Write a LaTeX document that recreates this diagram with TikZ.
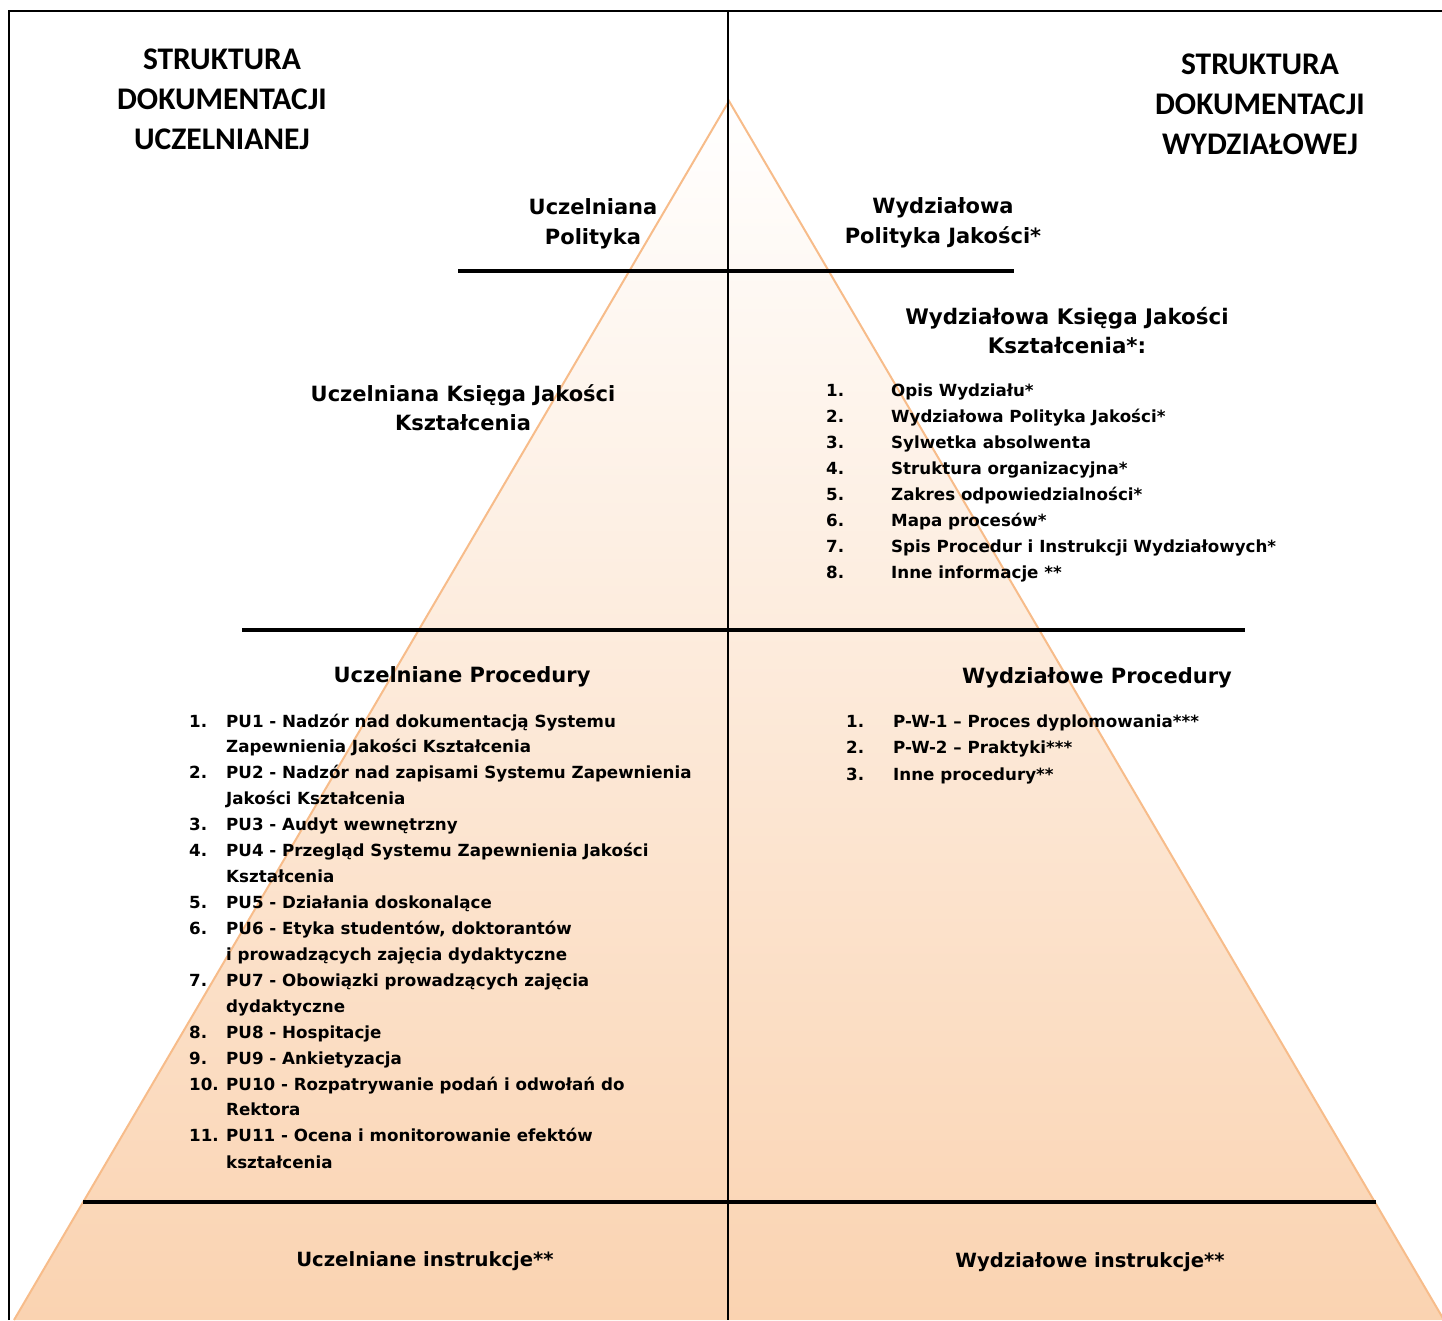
\documentclass[tikz,border=0pt]{standalone}
\usepackage{fontspec}
\setmainfont{DejaVu Sans}
\newfontfamily\headfont{Carlito}
\definecolor{peach}{RGB}{250,211,177}
\definecolor{pyredge}{RGB}{247,188,138}
\tikzset{
  bigtitle/.style={font=\headfont\bfseries\fontsize{31.5}{40}\selectfont, align=center, inner sep=0pt},
  heading/.style={font=\bfseries\fontsize{21}{30}\selectfont, align=center, inner sep=0pt},
  instr/.style={font=\bfseries\fontsize{19.6}{26}\selectfont, align=center, inner sep=0pt},
  itemtxt/.style={font=\bfseries\fontsize{16.7}{26}\selectfont, anchor=mid west, inner sep=0pt},
  rule/.style={line width=3.5pt, black},
  frame/.style={line width=2pt, black}
}
\begin{document}
\begin{tikzpicture}[x=1pt,y=-1pt]
\useasboundingbox (0,0) rectangle (1442,1320);
\begin{scope}
\clip (0,0) rectangle (1442,1320);
\shade[top color=white, bottom color=peach] (729,101) -- (14,1320) -- (1444,1320) -- cycle;
\draw[pyredge, line width=2pt] (14,1320) -- (729,101) -- (1444,1320);
\end{scope}
% frame
\draw[frame] (9,1320) -- (9,11) -- (1442,11);
\draw[frame] (728,11) -- (728,1320);
% rules
\draw[rule] (458,271) -- (1014,271);
\draw[rule] (242,630) -- (1245,630);
\draw[rule] (83,1202) -- (1376,1202);
% titles
\node[bigtitle] (tl) at (222,99) {STRUKTURA\\DOKUMENTACJI\\UCZELNIANEJ};
\node[bigtitle] (tr) at (1260,104) {STRUKTURA\\DOKUMENTACJI\\WYDZIAŁOWEJ};
\node[heading] (pl) at (593,224) {Uczelniana\\Polityka};
\node[heading] (pr) at (943,223) {Wydziałowa\\Polityka Jakości*};
\node[heading, font=\bfseries\fontsize{21.4}{29}\selectfont] (kr) at (1067,331) {Wydziałowa Księga Jakości\\Kształcenia*:};
\node[heading, font=\bfseries\fontsize{21}{29}\selectfont] (kl) at (463,408) {Uczelniana Księga Jakości\\Kształcenia};
\node[heading] (prl) at (462,677) {Uczelniane Procedury};
\node[heading] (prr) at (1097,678) {Wydziałowe Procedury};
\node[instr] (il) at (425,1261) {Uczelniane instrukcje**};
\node[instr] (ir) at (1090,1262) {Wydziałowe instrukcje**};
% right book list
\foreach \n/\t [count=\i from 0] in {1./Opis Wydziału*, 2./Wydziałowa Polityka Jakości*, 3./Sylwetka absolwenta, 4./Struktura organizacyjna*, 5./Zakres odpowiedzialności*, 6./Mapa procesów*, 7./Spis Procedur i Instrukcji Wydziałowych*, 8./Inne informacje **}{
  \node[itemtxt] (bn\i) at (826,394+26*\i) {\n};
  \node[itemtxt] (bt\i) at (891,394+26*\i) {\t};
}
% right procedures
\node[itemtxt] (rn1) at (846,725) {1.};
\node[itemtxt] (rt1) at (893,725) {P-W-1 – Proces dyplomowania***};
\node[itemtxt] (rn2) at (846,751) {2.};
\node[itemtxt] (rt2) at (893,751) {P-W-2 – Praktyki***};
\node[itemtxt] (rn3) at (846,778) {3.};
\node[itemtxt] (rt3) at (893,778) {Inne procedury**};
% left procedures
\node[itemtxt] (ln1) at (189,725) {1.};
\node[itemtxt] (lt1) at (226,725) {PU1 - Nadzór nad dokumentacją Systemu};
\node[itemtxt] (lt1b) at (226,750) {Zapewnienia Jakości Kształcenia};
\node[itemtxt] (ln2) at (189,776) {2.};
\node[itemtxt] (lt2) at (226,776) {PU2 - Nadzór nad zapisami Systemu Zapewnienia};
\node[itemtxt] (lt2b) at (226,802) {Jakości Kształcenia};
\node[itemtxt] (ln3) at (189,828) {3.};
\node[itemtxt] (lt3) at (226,828) {PU3 - Audyt wewnętrzny};
\node[itemtxt] (ln4) at (189,854) {4.};
\node[itemtxt] (lt4) at (226,854) {PU4 - Przegląd Systemu Zapewnienia Jakości};
\node[itemtxt] (lt4b) at (226,880) {Kształcenia};
\node[itemtxt] (ln5) at (189,906) {5.};
\node[itemtxt] (lt5) at (226,906) {PU5 - Działania doskonalące};
\node[itemtxt] (ln6) at (189,932) {6.};
\node[itemtxt] (lt6) at (226,932) {PU6 - Etyka studentów, doktorantów};
\node[itemtxt] (lt6b) at (226,958) {i prowadzących zajęcia dydaktyczne};
\node[itemtxt] (ln7) at (189,984) {7.};
\node[itemtxt] (lt7) at (226,984) {PU7 - Obowiązki prowadzących zajęcia};
\node[itemtxt] (lt7b) at (226,1010) {dydaktyczne};
\node[itemtxt] (ln8) at (189,1036) {8.};
\node[itemtxt] (lt8) at (226,1036) {PU8 - Hospitacje};
\node[itemtxt] (ln9) at (189,1062) {9.};
\node[itemtxt] (lt9) at (226,1062) {PU9 - Ankietyzacja};
\node[itemtxt] (ln10) at (189,1088) {10.};
\node[itemtxt] (lt10) at (226,1088) {PU10 - Rozpatrywanie podań i odwołań do};
\node[itemtxt] (lt10b) at (226,1113) {Rektora};
\node[itemtxt] (ln11) at (189,1139) {11.};
\node[itemtxt] (lt11) at (226,1139) {PU11 - Ocena i monitorowanie efektów};
\node[itemtxt] (lt11b) at (226,1166) {kształcenia};
\end{tikzpicture}
\end{document}
